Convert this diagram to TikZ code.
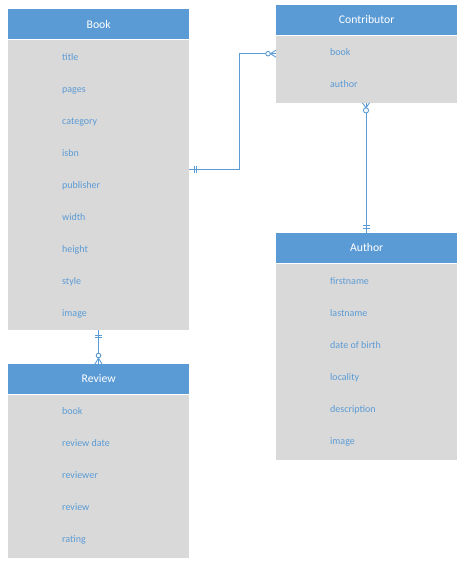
\documentclass[tikz,border=0pt]{standalone}
\usepackage{fontspec}
\setmainfont{Carlito}
\definecolor{hdr}{HTML}{5B9BD5}
\definecolor{bod}{HTML}{D9D9D9}
\begin{document}
\begin{tikzpicture}[x=1pt,y=-1pt,
  hdrbox/.style={fill=hdr, text=white, minimum width=181pt, inner sep=0pt, anchor=north west, font=\fontsize{11.7}{14}\selectfont},
  bodbox/.style={fill=bod, minimum width=181pt, inner sep=0pt, anchor=north west},
  attr/.style={text=hdr, anchor=base west, inner sep=0pt, font=\fontsize{10}{12}\selectfont},
  conn/.style={draw=hdr, line width=1pt},
  ermark/.style={draw=hdr, line width=0.9pt}]
\useasboundingbox (0,0) rectangle (465,566);
% Book
\node[hdrbox, minimum height=30pt] (bookh) at (8,9) {Book};
\node[bodbox, minimum height=290pt] (bookb) at (8,40) {};
\foreach \t [count=\i] in {title,pages,category,isbn,publisher,width,height,style,image}
  \node[attr] (book-a\i) at (62,{28.5+32*\i}) {\t};
% Contributor
\node[hdrbox, minimum height=29.5pt] (conth) at (276,5) {Contributor};
\node[bodbox, minimum height=67pt] (contb) at (276,35.5) {};
\foreach \t [count=\i] in {book,author}
  \node[attr] (cont-a\i) at (330,{23.5+32*\i}) {\t};
% Author
\node[hdrbox, minimum height=29.5pt] (authh) at (276,233) {Author};
\node[bodbox, minimum height=196pt] (authb) at (276,263.5) {};
\foreach \t [count=\i] in {firstname,lastname,date of birth,locality,description,image}
  \node[attr] (auth-a\i) at (330,{252.5+32*\i}) {\t};
% Review
\node[hdrbox, minimum height=29.5pt] (revh) at (8,364) {Review};
\node[bodbox, minimum height=163pt] (revb) at (8,394.5) {};
\foreach \t [count=\i] in {book,review date,reviewer,review,rating}
  \node[attr] (rev-a\i) at (62,{382.5+32*\i}) {\t};
% connector Book - Contributor
\coordinate (p1) at ([yshift=16pt]bookb.east);
\coordinate (p2) at ([yshift=15.5pt]contb.west);
\coordinate (pm) at (239.3,0 |- p2);
\draw[conn] (p1) -| (pm) -- (p2);
\draw[ermark] ([xshift=5pt,yshift=3.5pt]p1) -- ++(0,7);
\draw[ermark] ([xshift=7.5pt,yshift=3.5pt]p1) -- ++(0,7);
\draw[ermark, fill=white] ([xshift=-8pt]p2) circle[radius=2.3pt];
\draw[ermark] ([xshift=-5.5pt]p2) -- ([yshift=3.5pt]p2);
\draw[ermark] ([xshift=-5.5pt]p2) -- ([yshift=-3.5pt]p2);
% connector Contributor - Author
\coordinate (q1) at (contb.south -| 366,0);
\coordinate (q2) at (authh.north -| 366,0);
\draw[conn] (q1) -- (q2);
\draw[ermark, fill=white] ([yshift=-7.5pt]q1) circle[radius=2.6pt];
\draw[ermark] ([yshift=-4.8pt]q1) -- ([xshift=3.5pt]q1);
\draw[ermark] ([yshift=-4.8pt]q1) -- ([xshift=-3.5pt]q1);
\draw[ermark] ([yshift=5pt,xshift=-3.5pt]q2) -- ++(7,0);
\draw[ermark] ([yshift=7.5pt,xshift=-3.5pt]q2) -- ++(7,0);
% connector Book - Review
\coordinate (r1) at (bookb.south -| 98.5,0);
\coordinate (r2) at (revh.north -| 98.5,0);
\draw[conn] (r1) -- (r2);
\draw[ermark] ([yshift=-5pt,xshift=-3.5pt]r1) -- ++(7,0);
\draw[ermark] ([yshift=-7.5pt,xshift=-3.5pt]r1) -- ++(7,0);
\draw[ermark, fill=white] ([yshift=8.5pt]r2) circle[radius=2.3pt];
\draw[ermark] ([yshift=5.8pt]r2) -- ([xshift=3.5pt]r2);
\draw[ermark] ([yshift=5.8pt]r2) -- ([xshift=-3.5pt]r2);
\end{tikzpicture}
\end{document}
